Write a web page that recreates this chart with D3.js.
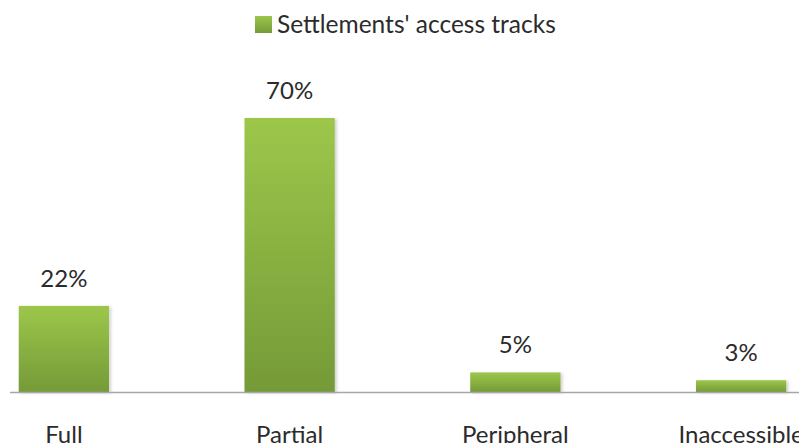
<!DOCTYPE html>
<html>
<head>
<meta charset="utf-8">
<script src="https://cdn.jsdelivr.net/npm/d3@7"></script>
<style>
  html, body { margin: 0; padding: 0; background: #fff; }
  svg { display: block; }
  text { font-family: Lato, "Open Sans", sans-serif; fill: #2b2b2b; }
</style>
</head>
<body>
<svg id="chart" width="799" height="443"></svg>
<script>
// Share of settlements by type of access track
const categories = ["Full", "Partial", "Peripheral", "Inaccessible"];
const values = [22, 70, 5, 3];
const seriesName = "Settlements' access tracks";

const width = 799, height = 443;
const svg = d3.select("#chart");

const defs = svg.append("defs");
const grad = defs.append("linearGradient")
  .attr("id", "barFill").attr("x1", 0).attr("y1", 0).attr("x2", 0).attr("y2", 1);
grad.append("stop").attr("offset", "0%").attr("stop-color", "#9cc74a");
grad.append("stop").attr("offset", "100%").attr("stop-color", "#759a38");

const shadow = defs.append("filter").attr("id", "barShadow")
  .attr("x", "-10%").attr("y", "-10%").attr("width", "130%").attr("height", "130%");
shadow.append("feDropShadow")
  .attr("dx", 2).attr("dy", 1).attr("stdDeviation", 1.5)
  .attr("flood-color", "#000").attr("flood-opacity", 0.18);

const x = d3.scaleBand()
  .domain(categories)
  .range([-49, 854])
  .paddingInner(0.6)
  .paddingOuter(0.3);

const y = d3.scaleLinear()
  .domain([0, 70])
  .range([392, 118]);

// Bars
svg.append("g").selectAll("rect")
  .data(categories)
  .join("rect")
  .attr("x", (d) => x(d))
  .attr("y", (d, i) => y(values[i]))
  .attr("width", x.bandwidth())
  .attr("height", (d, i) => y(0) - y(values[i]))
  .attr("fill", "url(#barFill)")
  .attr("filter", "url(#barShadow)");

// Baseline
svg.append("line")
  .attr("x1", 10).attr("x2", width)
  .attr("y1", y(0) + 0.5).attr("y2", y(0) + 0.5)
  .attr("stroke", "#a6a6a6").attr("stroke-width", 1.5);

// Value labels
svg.append("g").selectAll("text")
  .data(categories)
  .join("text")
  .attr("x", (d) => x(d) + x.bandwidth() / 2)
  .attr("y", (d, i) => y(values[i]) - 19)
  .attr("text-anchor", "middle")
  .style("font-size", "24px")
  .text((d, i) => values[i] + "%");

// Category labels (bottom row runs to the edge of the frame)
svg.append("g").selectAll("text")
  .data(categories)
  .join("text")
  .attr("x", (d) => x(d) + x.bandwidth() / 2)
  .attr("y", 443)
  .attr("text-anchor", "middle")
  .style("font-size", "24px")
  .text((d) => d);

// Legend
const legend = svg.append("g");
legend.append("rect")
  .attr("x", 255).attr("y", 16).attr("width", 17).attr("height", 17)
  .attr("fill", "url(#barFill)");
legend.append("text")
  .attr("x", 277).attr("y", 33)
  .style("font-size", "24.5px")
  .text(seriesName);
</script>
</body>
</html>
